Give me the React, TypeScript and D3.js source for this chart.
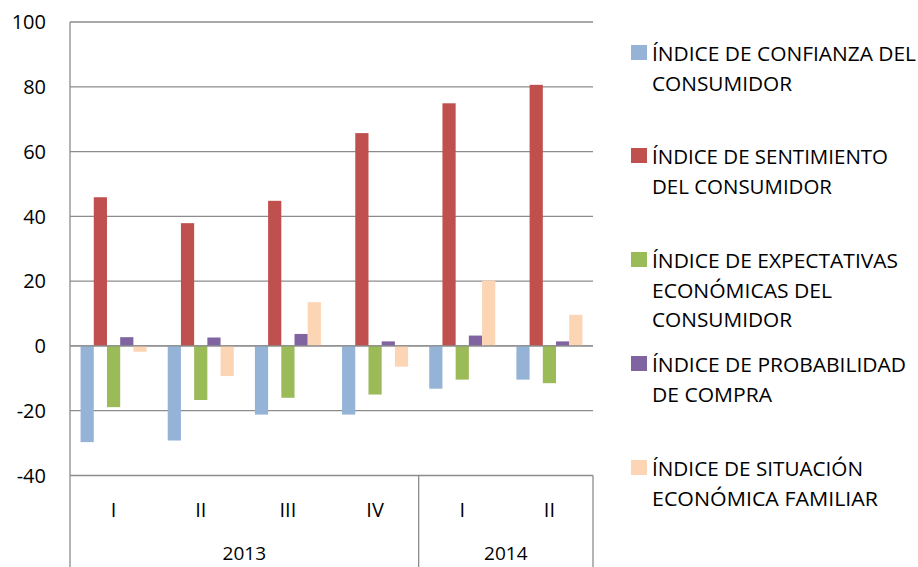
import React from "react";
import * as d3 from "d3";

const quarters = ["I", "II", "III", "IV", "I", "II"];
const years = ["2013", "2014"];
const yearSpans = [4, 2];

const seriesNames = [
  ["ÍNDICE DE CONFIANZA DEL", "CONSUMIDOR"],
  ["ÍNDICE DE SENTIMIENTO", "DEL CONSUMIDOR"],
  ["ÍNDICE DE EXPECTATIVAS", "ECONÓMICAS DEL", "CONSUMIDOR"],
  ["ÍNDICE DE PROBABILIDAD", "DE COMPRA"],
  ["ÍNDICE DE SITUACIÓN", "ECONÓMICA FAMILIAR"],
];
const colors = ["#95B3D7", "#C0504D", "#9BBB59", "#8064A2", "#FCD5B5"];

const confianza = [-29.7, -29.2, -21.2, -21.2, -13.2, -10.4];
const sentimiento = [45.9, 37.9, 44.8, 65.7, 74.9, 80.6];
const expectativas = [-18.9, -16.7, -16.0, -15.0, -10.4, -11.5];
const probabilidad = [2.7, 2.6, 3.7, 1.4, 3.2, 1.4];
const situacion = [-1.8, -9.3, 13.5, -6.4, 20.2, 9.6];
const series = [confianza, sentimiento, expectativas, probabilidad, situacion];

const yTicks = [-40, -20, 0, 20, 40, 60, 80, 100];

// legend layout (first line baseline per entry, text widths per line)
const legendBaselines = [61, 164, 268, 372, 476];
const legendWidths = [
  [264, 140],
  [236, 180],
  [246, 180, 140],
  [254, 120],
  [211, 226],
];

const W = 918;
const H = 567;
const left = 70;
const right = 593;
const top = 22;
const bottom = 475.5;
const font = "'Open Sans', sans-serif";
const grid = "#8c8c8c";

export default function App() {
  const y = d3.scaleLinear().domain([-40, 100]).range([bottom, top]);
  const x0 = d3
    .scaleBand<number>()
    .domain(d3.range(quarters.length))
    .range([left, right])
    .paddingInner(0)
    .paddingOuter(0);
  const x1 = d3
    .scaleBand<number>()
    .domain(d3.range(series.length))
    .range([0, x0.bandwidth()])
    .paddingInner(0)
    .paddingOuter(0.8);

  // year group boundaries
  const bounds: number[] = [left];
  let acc = 0;
  yearSpans.forEach((s) => {
    acc += s;
    bounds.push(acc >= quarters.length ? right : x0(acc)!);
  });

  return (
    <div style={{ position: "fixed", left: 0, top: 0 }}>
      <svg width={W} height={H} style={{ display: "block", background: "#fff" }}>
        {/* gridlines */}
        {yTicks.map((t) => (
          <line
            key={t}
            x1={left}
            x2={right}
            y1={y(t)}
            y2={y(t)}
            stroke={grid}
            strokeWidth={1.3}
          />
        ))}
        {/* y labels */}
        {yTicks.map((t) => (
          <text
            key={"l" + t}
            x={46}
            y={y(t)}
            dy="0.36em"
            textAnchor="end"
            fontFamily={font}
            fontSize={20}
            fill="#000"
          >
            {t}
          </text>
        ))}
        {/* bars */}
        {quarters.map((q, i) =>
          series.map((s, j) => {
            const v = s[i];
            const bx = x0(i)! + x1(j)!;
            return (
              <rect
                key={`${i}-${j}`}
                x={bx}
                width={x1.bandwidth()}
                y={Math.min(y(v), y(0))}
                height={Math.abs(y(v) - y(0))}
                fill={colors[j]}
              />
            );
          })
        )}
        {/* zero line on top */}
        <line x1={left} x2={right} y1={y(0)} y2={y(0)} stroke={grid} strokeWidth={1.3} />
        {/* left axis */}
        <line x1={left} x2={left} y1={top} y2={H} stroke={grid} strokeWidth={1.3} />
        {/* category box separators */}
        {bounds.slice(1).map((b, k) => (
          <line key={"b" + k} x1={b} x2={b} y1={bottom} y2={H} stroke={grid} strokeWidth={1.3} />
        ))}
        {/* quarter labels */}
        {quarters.map((q, i) => (
          <text
            key={"q" + i}
            x={x0(i)! + x0.bandwidth() / 2}
            y={517}
            textAnchor="middle"
            fontFamily={font}
            fontSize={20}
            fill="#000"
          >
            {q}
          </text>
        ))}
        {/* year labels */}
        {years.map((yr, k) => (
          <text
            key={yr}
            x={(bounds[k] + bounds[k + 1]) / 2}
            y={560}
            textAnchor="middle"
            fontFamily={font}
            fontSize={19}
            fill="#000"
          >
            {yr}
          </text>
        ))}
        {/* legend */}
        {seriesNames.map((lines, j) => (
          <g key={"lg" + j}>
            <rect x={631} y={legendBaselines[j] - 16} width={16} height={15} fill={colors[j]} />
            {lines.map((ln, k) => (
              <text
                key={k}
                x={652}
                y={legendBaselines[j] + k * 29.7}
                fontFamily={font}
                fontSize={20}
                fill="#000"
                textLength={legendWidths[j][k]}
                lengthAdjust="spacingAndGlyphs"
              >
                {ln}
              </text>
            ))}
          </g>
        ))}
      </svg>
    </div>
  );
}
